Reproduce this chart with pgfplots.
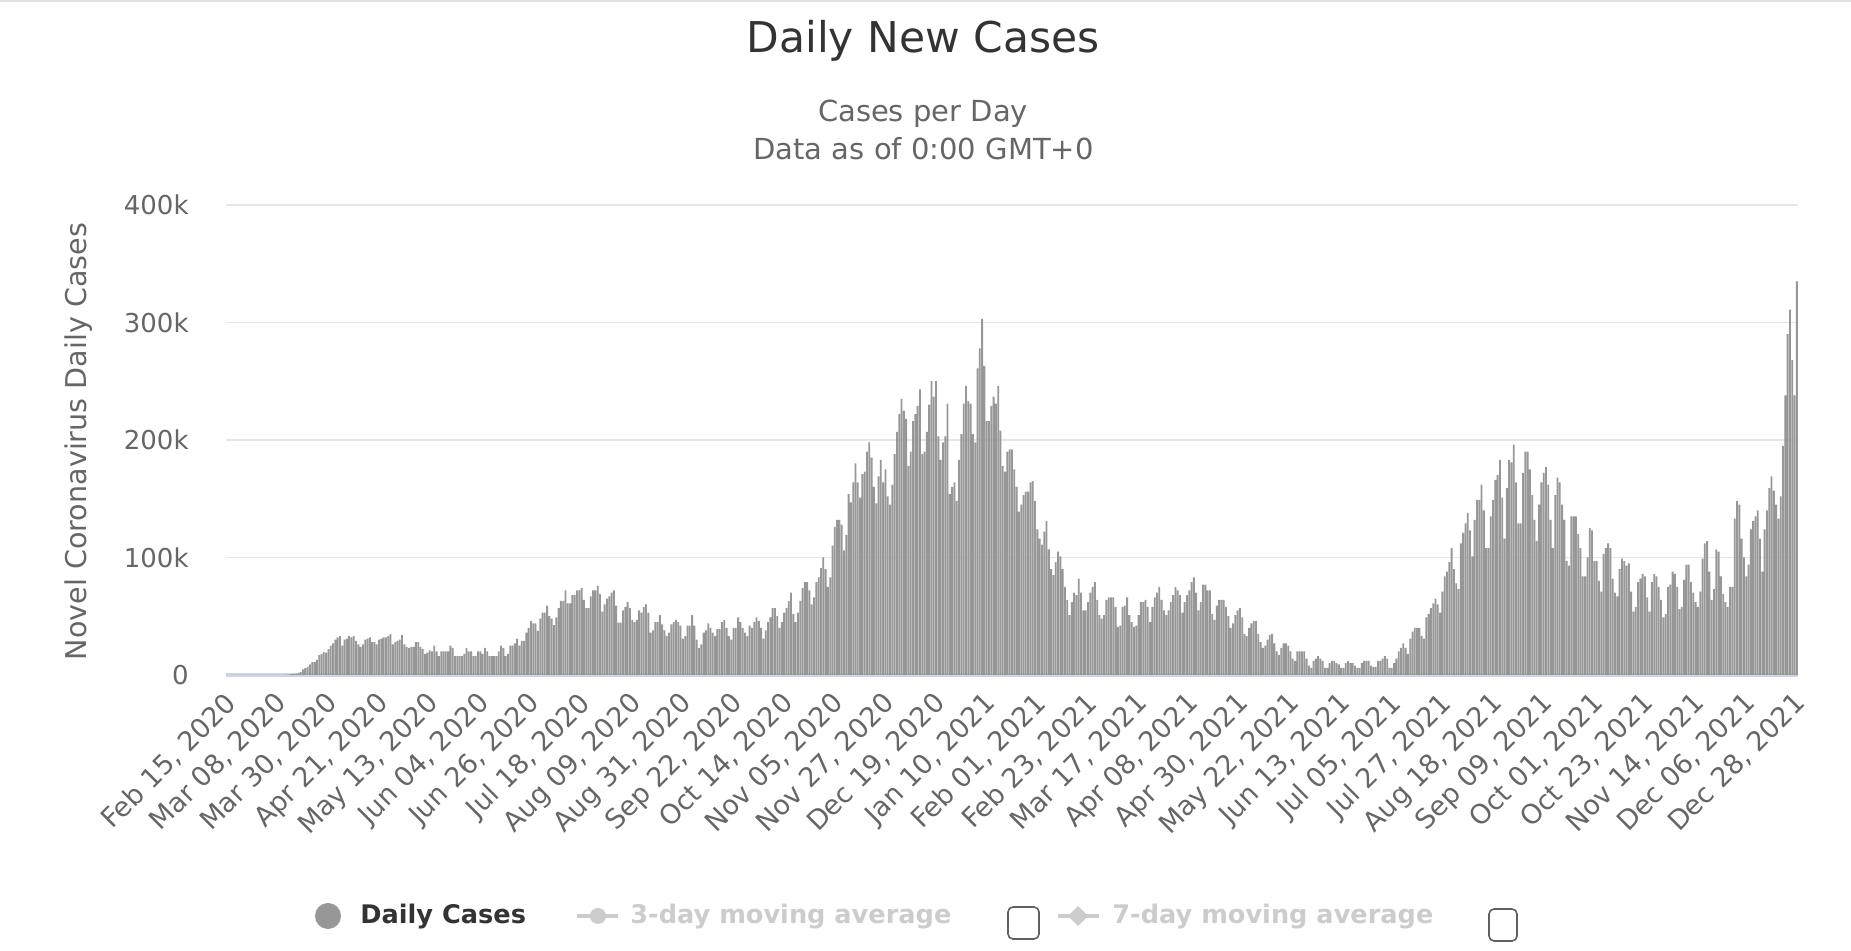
\documentclass[border=0pt]{standalone}
\usepackage{fontspec}
\setmainfont{DejaVu Sans}
\usepackage{pgfplots}
\usepackage{pgfplotstable}
\pgfplotsset{compat=1.18}
\definecolor{barc}{HTML}{979797}
\definecolor{gridc}{HTML}{E6E6E6}
\definecolor{axc}{HTML}{CCD6EB}
\definecolor{txt}{HTML}{333333}
\definecolor{subc}{HTML}{666666}
\definecolor{hid}{HTML}{CCCCCC}
\definecolor{topl}{HTML}{E0E0E0}
\definecolor{boxc}{HTML}{606060}

% daily new cases in thousands, one value per day from Feb 15, 2020 (rows of 7 days, Sat..Fri)
\pgfplotstableread[row sep=\\]{
v\\
0\\0\\0\\0\\0\\0\\0\\
0\\0\\0\\0\\0\\0\\0\\
0\\0\\0\\0\\0.02\\0.03\\0.05\\
0.1\\0.1\\0.15\\0.2\\0.3\\0.4\\0.5\\
0.7\\0.9\\1.2\\1.8\\2.6\\4.8\\5.8\\
7\\9\\11\\11\\13\\17\\18\\
19.5\\19\\22\\25\\27\\30\\32\\
33\\25\\30\\31\\33\\32\\33\\
29\\26\\24\\26\\30\\31\\32\\
28\\28\\26\\30\\31\\32\\32\\
33\\35\\26\\28\\29\\30\\34\\
26\\24\\23\\24\\24\\28\\28\\
24\\22\\18\\19\\21\\20\\25\\
20\\16\\20\\20\\20\\20\\25\\
23\\16\\16\\16\\16\\18\\23\\
20\\20\\16\\16\\20\\20\\18\\
23\\20\\16\\16\\16\\16\\20\\
25\\23\\16\\18\\25\\25\\27\\
31\\25\\29\\29\\36\\40\\46\\
44\\44\\37.5\\48\\53\\53\\59\\
50\\48\\42.5\\49\\57\\63\\63\\
72\\61\\61\\68\\68\\72\\72\\
74\\64\\57\\57\\67\\72\\72\\
76\\69\\54\\60\\65\\67\\70\\
72\\59\\44.5\\44.5\\55\\58\\62\\
57\\47\\45\\47\\55\\53\\58\\
60\\53\\36\\38\\45\\45\\51\\
43\\38\\33\\36\\43\\45\\47\\
45\\42\\31\\33\\42\\42\\51\\
42\\30\\23\\26\\36\\38\\44\\
40\\36\\33\\39\\39\\45\\47\\
40\\33\\30\\40\\40\\49\\45\\
40\\36\\33\\42\\40\\45\\49\\
46\\40\\31\\38\\45\\49\\57\\
57\\50\\40\\45\\53\\57\\63\\
70\\52\\45\\53\\63\\74\\79\\
79\\72\\60\\66\\79\\83\\91\\
100\\90\\75\\83\\110\\126\\132\\
132\\128\\106\\119\\154\\147\\164\\
180\\164\\151\\171\\173\\190\\198\\
185\\160\\146\\169\\183\\164\\175\\
152\\145\\162\\188\\207\\222\\235\\
225\\218\\178\\190\\216\\222\\229\\
243\\188\\190\\207\\230\\250\\237\\
250\\203\\183\\198\\203\\231\\154\\
160\\164\\148\\183\\205\\231\\246\\
233\\231\\205\\198\\261\\278\\303\\
263\\216\\216\\229\\237\\231\\246\\
208\\178\\173\\190\\192\\192\\175\\
160\\139\\145\\153\\156\\156\\164\\
165\\148\\124\\116\\111\\122\\131\\
107\\90\\85\\96\\105\\101\\90\\
75\\64\\51\\62\\70\\68\\82\\
70\\55\\55\\62\\70\\75\\79\\
64\\51\\48\\51\\64\\66\\66\\
66\\58\\41\\42\\58\\59\\66\\
51\\45\\41\\42\\51\\62\\62\\
64\\58\\45\\58\\66\\70\\75\\
64\\55\\51\\55\\62\\68\\75\\
72\\68\\53\\62\\68\\72\\79\\
83\\70\\55\\62\\77\\77\\72\\
72\\52\\47\\59\\64\\64\\64\\
58\\50\\40\\44\\51\\55\\57\\
49\\35\\33\\40\\44\\46\\46\\
35\\28\\23\\25\\30\\34\\35\\
27\\20\\17\\23\\27\\27\\25\\
20\\14\\12\\20\\20\\20\\20\\
14\\8\\6\\12\\14\\16\\14\\
12\\6\\6\\10\\12\\12\\10\\
9\\6\\6\\10\\12\\10\\10\\
8\\6\\6\\10\\12\\12\\12\\
8\\7\\7\\12\\12\\14\\16\\
14\\6\\6\\10\\14\\20\\23\\
27\\23\\18\\31\\37\\40\\40\\
40\\33\\31\\49\\52\\57\\61\\
65\\60\\53\\71\\84\\88\\96\\
108\\90\\78\\73\\112\\121\\129\\
138\\123\\101\\132\\149\\149\\162\\
140\\108\\108\\135\\149\\166\\170\\
183\\151\\116\\159\\183\\181\\196\\
164\\129\\129\\172\\190\\190\\175\\
153\\132\\114\\145\\164\\172\\177\\
162\\132\\108\\153\\168\\164\\145\\
132\\97\\93\\135\\135\\135\\120\\
108\\84\\84\\100\\125\\123\\97\\
97\\80\\71\\103\\108\\112\\108\\
82\\70\\67\\90\\99\\97\\93\\
95\\71\\54\\58\\79\\82\\86\\
84\\66\\54\\79\\86\\84\\75\\
64\\49\\52\\75\\77\\88\\86\\
75\\56\\58\\81\\94\\94\\79\\
70\\62\\58\\71\\99\\112\\114\\
88\\64\\73\\107\\105\\84\\69\\
62\\58\\75\\75\\133\\148\\145\\
116\\100\\84\\94\\124\\131\\135\\
140\\116\\88\\124\\140\\159\\169\\
157\\145\\133\\152\\195\\238\\290\\
311\\268\\238\\335\\
}\dailycases

\begin{document}
\begin{tikzpicture}
\path[use as bounding box] (0,0) rectangle (925.5pt,475.5pt);
\draw[topl, line width=1pt] (0,475pt) -- (925.5pt,475pt);

\node[anchor=base, font=\fontsize{21.2}{25}\selectfont, text=txt, inner sep=0pt] at (461.5pt,449.2pt) {Daily New Cases};
\node[anchor=base, font=\fontsize{14.5}{17}\selectfont, text=subc, inner sep=0pt] at (461.5pt,414.7pt) {Cases per Day};
\node[anchor=base, font=\fontsize{14.5}{17}\selectfont, text=subc, inner sep=0pt] at (461.75pt,395.9pt) {Data as of 0:00 GMT+0};

\node[rotate=90, font=\fontsize{14.3}{17}\selectfont, text=subc, inner sep=0pt] at (39.5pt,254.75pt) {Novel Coronavirus Daily Cases};

\begin{axis}[
  at={(113pt,138pt)}, anchor=south west,
  scale only axis, width=786pt, height=235pt,
  xmin=-0.5, xmax=682.5, ymin=0, ymax=400,
  enlargelimits=false,
  axis x line*=bottom, axis y line*=left,
  x axis line style={draw=axc, line width=1.6pt, -},
  y axis line style={draw=none},
  ymajorgrids, grid style={draw=gridc, line width=0.6pt},
  major tick length=0pt,
  ytick={0,100,200,300,400},
  yticklabels={0,100k,200k,300k,400k},
  yticklabel style={font=\fontsize{13}{15}\selectfont, text=subc, inner sep=0pt, anchor=east, xshift=-18.5pt},
  xtick={0,22,...,682},
  xticklabels={{Feb 15, 2020},{Mar 08, 2020},{Mar 30, 2020},{Apr 21, 2020},{May 13, 2020},{Jun 04, 2020},{Jun 26, 2020},{Jul 18, 2020},{Aug 09, 2020},{Aug 31, 2020},{Sep 22, 2020},{Oct 14, 2020},{Nov 05, 2020},{Nov 27, 2020},{Dec 19, 2020},{Jan 10, 2021},{Feb 01, 2021},{Feb 23, 2021},{Mar 17, 2021},{Apr 08, 2021},{Apr 30, 2021},{May 22, 2021},{Jun 13, 2021},{Jul 05, 2021},{Jul 27, 2021},{Aug 18, 2021},{Sep 09, 2021},{Oct 01, 2021},{Oct 23, 2021},{Nov 14, 2021},{Dec 06, 2021},{Dec 28, 2021}},
  xticklabel style={font=\fontsize{13.5}{15}\selectfont, text=subc, xshift=-2pt, yshift=-7.5pt, rotate=45, anchor=north east, inner sep=0pt},
]
\addplot[ybar, bar width=0.8, bar shift=0pt, fill=barc, draw=none] table[x expr=\coordindex, y=v] {\dailycases};
\end{axis}

% legend
\fill[barc] (164pt,17.5pt) circle (6.5pt);
\node[anchor=west, font=\bfseries\fontsize{12.8}{15}\selectfont, text=txt, inner sep=0pt] at (180pt,17pt) {Daily Cases};
\draw[hid, line width=2pt] (288.5pt,17.5pt) -- (309pt,17.5pt);
\fill[hid] (299pt,17.5pt) circle (4pt);
\node[anchor=west, font=\bfseries\fontsize{12.8}{15}\selectfont, text=hid, inner sep=0pt] at (315pt,17pt) {3-day moving average};
\draw[boxc, line width=0.8pt, rounded corners=2.5pt] (504pt,6pt) rectangle (519.5pt,22pt);
\draw[hid, line width=2pt] (529pt,17.5pt) -- (549.5pt,17.5pt);
\fill[hid] (539pt,22.5pt) -- (544pt,17.5pt) -- (539pt,12.5pt) -- (534pt,17.5pt) -- cycle;
\node[anchor=west, font=\bfseries\fontsize{12.8}{15}\selectfont, text=hid, inner sep=0pt] at (556pt,17pt) {7-day moving average};
\draw[boxc, line width=0.8pt, rounded corners=2.5pt] (744.5pt,5pt) rectangle (758.5pt,21pt);
\end{tikzpicture}
\end{document}
